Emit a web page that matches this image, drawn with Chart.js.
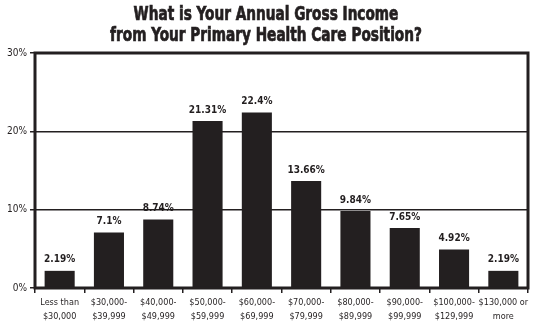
<!DOCTYPE html>
<html>
<head>
<meta charset="utf-8">
<script src="https://cdn.jsdelivr.net/npm/chart.js@4"></script>
<style>
  html, body { margin: 0; padding: 0; background: #fff; }
  #wrap { width: 542px; height: 325px; }
</style>
</head>
<body>
<div id="wrap"><canvas id="incomeChart" width="542" height="325"></canvas></div>
<script>
const categories = [
    ['Less than', '$30,000'],
    ['$30,000-', '$39,999'],
    ['$40,000-', '$49,999'],
    ['$50,000-', '$59,999'],
    ['$60,000-', '$69,999'],
    ['$70,000-', '$79,999'],
    ['$80,000-', '$89,999'],
    ['$90,000-', '$99,999'],
    ['$100,000-', '$129,999'],
    ['$130,000 or', 'more']
];
const percents = [2.19, 7.1, 8.74, 21.31, 22.4, 13.66, 9.84, 7.65, 4.92, 2.19];
const valueLabels = ['2.19%', '7.1%', '8.74%', '21.31%', '22.4%', '13.66%', '9.84%', '7.65%', '4.92%', '2.19%'];
const yTicks = [0, 10, 20, 30];
const titleLines = ['What is Your Annual Gross Income', 'from Your Primary Health Care Position?'];

const ink = '#231f20';
const narrow = "'Liberation Sans Narrow', 'DejaVu Sans Condensed', sans-serif";

// squeezed heavy title, labels above bars, heavy frame round the plot
const extras = {
    id: 'extras',
    afterDraw(chart) {
        const ctx = chart.ctx;
        ctx.save();
        ctx.fillStyle = ink;
        ctx.strokeStyle = ink;
        ctx.lineWidth = 0.7;
        ctx.font = "bold 19px " + narrow;
        ctx.textAlign = 'center';
        ctx.textBaseline = 'alphabetic';
        ctx.translate(266, 0);
        ctx.scale(0.8, 1);
        titleLines.forEach((line, i) => {
            ctx.fillText(line, 0, 20 + i * 21);
            ctx.strokeText(line, 0, 20 + i * 21);
        });
        ctx.restore();
    },
    afterDatasetsDraw(chart) {
        const ctx = chart.ctx;
        const meta = chart.getDatasetMeta(0);
        ctx.save();
        ctx.fillStyle = ink;
        ctx.font = "bold 10px " + narrow;
        ctx.textAlign = 'center';
        ctx.textBaseline = 'bottom';
        meta.data.forEach((bar, i) => {
            ctx.fillText(valueLabels[i], bar.x, bar.y - 6);
        });
        const a = chart.chartArea;
        ctx.strokeStyle = ink;
        ctx.lineWidth = 3;
        ctx.strokeRect(a.left, a.top, a.right - a.left, a.bottom - a.top);
        ctx.restore();
    }
};

const ctx = document.getElementById('incomeChart').getContext('2d');
new Chart(ctx, {
    type: 'bar',
    data: {
        labels: categories,
        datasets: [{
            data: percents,
            backgroundColor: ink,
            barPercentage: 0.61,
            categoryPercentage: 1
        }]
    },
    options: {
        responsive: false,
        animation: false,
        layout: { padding: { left: 0, right: 14, top: 53, bottom: 0 } },
        plugins: {
            legend: { display: false },
            tooltip: { enabled: false },
            title: { display: false }
        },
        scales: {
            x: {
                afterFit(axis) {
                    axis.height = 37;
                },
                grid: {
                    offset: true,
                    drawOnChartArea: false,
                    drawTicks: true,
                    tickLength: 5,
                    color: ink,
                    lineWidth: 1.5
                },
                border: { display: false },
                ticks: {
                    color: ink,
                    font: { family: narrow, size: 9, lineHeight: 1.55 },
                    maxRotation: 0,
                    autoSkip: false,
                    padding: 3
                }
            },
            y: {
                min: 0,
                max: 30,
                afterBuildTicks(axis) {
                    axis.ticks = yTicks.map(v => ({ value: v }));
                },
                afterFit(axis) {
                    axis.width = 35;
                },
                grid: {
                    color: ink,
                    lineWidth: 1.5,
                    tickLength: 5
                },
                border: { display: false },
                ticks: {
                    color: ink,
                    font: { family: narrow, size: 10 },
                    padding: 3,
                    callback: v => v + '%'
                }
            }
        }
    },
    plugins: [extras]
});
</script>
</body>
</html>
